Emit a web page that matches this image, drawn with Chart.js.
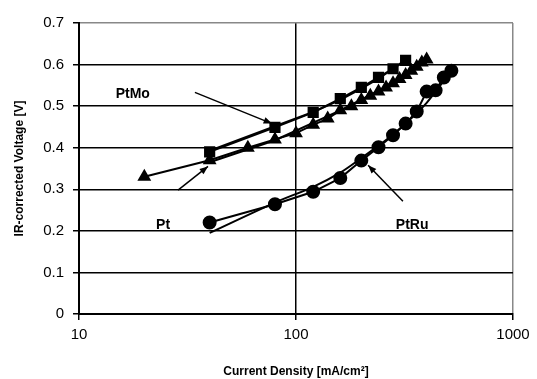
<!DOCTYPE html>
<html>
<head>
<meta charset="utf-8">
<script src="https://cdn.jsdelivr.net/npm/chart.js@4"></script>
<style>
  html, body { margin: 0; padding: 0; background: #fff; }
  #wrap { width: 537px; height: 379px; }
</style>
</head>
<body>
<div id="wrap"><canvas id="chart" width="537" height="379"></canvas></div>
<script>
// values
const ptMoX = [40, 80, 120, 160, 200, 240, 280, 320];
const ptMoY = [0.39, 0.449, 0.485, 0.518, 0.545, 0.569, 0.59, 0.61];
const ptMoFitX = [40, 80, 120, 160, 200, 240, 280, 320];
const ptMoFitY = [0.393, 0.452, 0.486, 0.515, 0.542, 0.566, 0.59, 0.612];

const ptX = [20, 40, 60, 80, 100, 120, 140, 160, 180, 200, 220, 240, 260, 280, 300, 320, 340, 360, 380, 400];
const ptY = [0.33, 0.37, 0.40, 0.42, 0.435, 0.455, 0.47, 0.49, 0.50, 0.515, 0.525, 0.535, 0.545, 0.555, 0.565, 0.575, 0.585, 0.595, 0.605, 0.612];
const ptFitX = [40, 80, 160, 240, 320, 400];
const ptFitY = [0.365, 0.418, 0.49, 0.537, 0.577, 0.61];

const ptRuX = [40, 80, 120, 160, 200, 240, 280, 320, 360, 400, 440, 480, 520];
const ptRuY = [0.22, 0.264, 0.294, 0.327, 0.369, 0.401, 0.43, 0.458, 0.487, 0.535, 0.538, 0.569, 0.585];
const ptRuFitX = [40, 80, 120, 160, 200, 240, 280, 320, 400, 520];
const ptRuFitY = [0.195, 0.268, 0.306, 0.34, 0.375, 0.405, 0.432, 0.458, 0.508, 0.585];

const xTicks = [10, 100, 1000];

// labels and arrows, in data units: [text, x, y]
const labels = [["PtMo", 17.7, 0.53], ["Pt", 24.4, 0.214], ["PtRu", 343, 0.214]];
// [fromX, fromY, toX, toY]
const arrows = [[34.2, 0.533, 77.5, 0.458], [28.6, 0.298, 39.3, 0.355], [311, 0.271, 215, 0.358]];

const pts = (xs, ys) => xs.map((x, i) => ({ x: x, y: ys[i] }));

const annotate = {
  id: 'annotate',
  afterDatasetsDraw(chart) {
    const ctx = chart.ctx;
    const xs = chart.scales.x, ys = chart.scales.y;
    ctx.save();
    ctx.strokeStyle = '#000';
    ctx.fillStyle = '#000';
    ctx.lineWidth = 1.5;
    arrows.forEach(a => {
      const x1 = xs.getPixelForValue(a[0]), y1 = ys.getPixelForValue(a[1]);
      const x2 = xs.getPixelForValue(a[2]), y2 = ys.getPixelForValue(a[3]);
      ctx.beginPath();
      ctx.moveTo(x1, y1);
      ctx.lineTo(x2, y2);
      ctx.stroke();
      const ang = Math.atan2(y2 - y1, x2 - x1);
      ctx.beginPath();
      ctx.moveTo(x2, y2);
      ctx.lineTo(x2 - 9 * Math.cos(ang - 0.38), y2 - 9 * Math.sin(ang - 0.38));
      ctx.lineTo(x2 - 9 * Math.cos(ang + 0.38), y2 - 9 * Math.sin(ang + 0.38));
      ctx.closePath();
      ctx.fill();
    });
    ctx.font = 'bold 14px "Liberation Sans", Arial, sans-serif';
    ctx.textAlign = 'center';
    ctx.textBaseline = 'middle';
    labels.forEach(l => {
      ctx.fillText(l[0], xs.getPixelForValue(l[1]), ys.getPixelForValue(l[2]));
    });
    ctx.restore();
  }
};

const line = { borderColor: '#000', backgroundColor: '#000', borderWidth: 2, showLine: true, fill: false };

new Chart(document.getElementById('chart'), {
  type: 'scatter',
  data: {
    datasets: [
      Object.assign({ label: 'PtMo', data: pts(ptMoX, ptMoY), pointStyle: 'rect', pointRadius: 6.5 }, line),
      Object.assign({ label: 'PtMo fit', data: pts(ptMoFitX, ptMoFitY), pointRadius: 0 }, line),
      Object.assign({ label: 'Pt', data: pts(ptX, ptY), pointStyle: 'triangle', pointRadius: 6 }, line),
      Object.assign({ label: 'Pt fit', data: pts(ptFitX, ptFitY), pointRadius: 0, borderWidth: 1.5 }, line),
      Object.assign({ label: 'PtRu', data: pts(ptRuX, ptRuY), pointStyle: 'circle', pointRadius: 6 }, line),
      Object.assign({ label: 'PtRu fit', data: pts(ptRuFitX, ptRuFitY), pointRadius: 0, tension: 0.3 }, line)
    ]
  },
  options: {
    responsive: false,
    animation: false,
    layout: { padding: { top: 23, right: 24, left: 0, bottom: 0 } },
    plugins: { legend: { display: false }, tooltip: { enabled: false } },
    scales: {
      x: {
        type: 'logarithmic',
        min: 10,
        max: 1000,
        afterBuildTicks: s => { s.ticks = xTicks.map(v => ({ value: v })); },
        afterFit: s => { s.height = 65; },
        border: { display: true, color: '#000', width: 2 },
        grid: {
          color: c => (c.tick && c.tick.value === 1000 ? '#888' : '#000'),
          lineWidth: 1.5,
          tickLength: 6,
          tickColor: '#000'
        },
        ticks: {
          color: '#000',
          padding: 6,
          maxRotation: 0,
          font: { family: '"Liberation Sans", Arial, sans-serif', size: 15 },
          callback: v => String(v)
        },
        title: {
          display: true,
          text: 'Current Density [mA/cm²]',
          color: '#000',
          padding: { top: 12, bottom: 0 },
          font: { family: '"Liberation Sans", Arial, sans-serif', size: 12, weight: 'bold' }
        }
      },
      y: {
        min: 0,
        max: 0.7,
        afterFit: s => { s.width = 79; },
        border: { display: true, color: '#000', width: 2 },
        grid: {
          color: c => (c.tick && Math.abs(c.tick.value - 0.7) < 1e-6 ? '#888' : '#000'),
          lineWidth: 1.5,
          tickLength: 6,
          tickColor: '#000'
        },
        ticks: {
          stepSize: 0.1,
          color: '#000',
          padding: 9,
          font: { family: '"Liberation Sans", Arial, sans-serif', size: 15 },
          callback: v => (Math.round(v * 10) === 0 ? '0' : (Math.round(v * 10) / 10).toFixed(1))
        },
        title: {
          display: true,
          text: 'IR-corrected Voltage [V]',
          color: '#000',
          padding: { top: 12, bottom: 0 },
          font: { family: '"Liberation Sans", Arial, sans-serif', size: 12, weight: 'bold' }
        }
      }
    }
  },
  plugins: [annotate]
});
</script>
</body>
</html>
